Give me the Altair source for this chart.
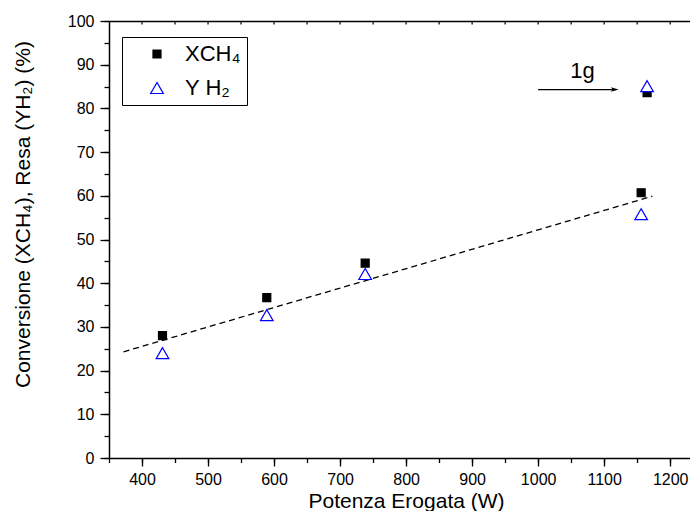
import altair as alt
import pandas as pd

# potenza erogata (W) e valori misurati (%)
power = [431, 589, 738, 1156, 1165]
xch4 = [28.0, 36.7, 44.6, 60.7, 83.6]
yh2 = [24.0, 32.7, 42.1, 55.8, 85.1]

# retta di tendenza (tratteggiata)
fit_x = [372, 1173]
fit_y = [24.3, 59.9]

# freccia "1g"
arrow_x = [1000, 1118]
arrow_y = [84.3, 84.3]
tip_x = [1122]
label_1g = "1g"
label_x = [1067]
label_y = [88.6]

series = ["XCH\u2084", "Y H\u2082"]
x_major = list(range(400, 1201, 100))
x_minor = list(range(350, 1201, 50))
y_major = list(range(0, 101, 10))
y_minor = list(range(0, 101, 5))
top_ticks = list(range(400, 1201, 50))

FONT = "Liberation Sans"
XDOM = [350, 1230]
YDOM = [0, 100]

rows = []
for i in range(len(power)):
    rows.append({"x": power[i], "v": xch4[i], "s": series[0]})
for i in range(len(power)):
    rows.append({"x": power[i], "v": yh2[i], "s": series[1]})
pts = pd.DataFrame(rows)

xs = alt.Scale(domain=XDOM, nice=False, zero=False)
ys = alt.Scale(domain=YDOM, nice=False)

# assi principali (etichette) e secondari (tacche minori)
x_axis = alt.Axis(
    orient="bottom", values=x_major, format="d", title="Potenza Erogata (W)",
    tickSize=8, labelPadding=5, labelOverlap=False, labelFlush=False, labelBound=False,
    titleX=297, titleY=49, titleBaseline="alphabetic", titleAnchor="middle",
    domain=True, grid=False,
)
x_axis_minor = alt.Axis(
    orient="bottom", values=x_minor, tickSize=4.5, labels=False, domain=False,
    title=None, grid=False,
)
y_axis = alt.Axis(
    orient="left", values=y_major, format="d",
    title="Conversione (XCH\u2084), Resa (YH\u2082) (%)",
    tickSize=9, labelPadding=6, labelOverlap=False, labelFlush=False, labelBound=False,
    titleX=-86, titleY=193, titleBaseline="middle", titleAngle=270,
    domain=True, grid=False,
)
y_axis_minor = alt.Axis(
    orient="left", values=y_minor, tickSize=5, labels=False, domain=False,
    title=None, grid=False,
)

points = alt.Chart(pts).mark_point(filled=False, strokeWidth=1.2, opacity=1).encode(
    x=alt.X("x:Q", scale=xs, axis=x_axis),
    y=alt.Y("v:Q", scale=ys, axis=y_axis),
    shape=alt.Shape("s:N", scale=alt.Scale(domain=series, range=["square", "triangle-up"]),
                    legend=alt.Legend(title=None)),
    stroke=alt.Stroke("s:N", scale=alt.Scale(domain=series, range=["black", "#0000ff"]),
                      legend=alt.Legend(title=None)),
    fill=alt.Fill("s:N", scale=alt.Scale(domain=series, range=["black", "white"]),
                  legend=alt.Legend(title=None)),
    size=alt.Size("s:N", scale=alt.Scale(domain=series, range=[64, 160]),
                  legend=alt.Legend(title=None)),
)

fit = alt.Chart(pd.DataFrame({"x": fit_x, "v": fit_y})).mark_line(
    color="black", strokeWidth=1.3, strokeDash=[6, 4]
).encode(
    x=alt.X("x:Q", scale=xs, axis=x_axis_minor),
    y=alt.Y("v:Q", scale=ys, axis=y_axis_minor),
)

arrow = alt.Chart(pd.DataFrame({"x": arrow_x, "v": arrow_y})).mark_line(
    color="black", strokeWidth=1.2
).encode(
    x=alt.X("x:Q", scale=xs, axis=None),
    y=alt.Y("v:Q", scale=ys, axis=None),
)

head = alt.Chart(pd.DataFrame({"x": tip_x, "v": [arrow_y[0]]})).mark_point(
    shape="M0,0L-1,-0.28L-0.75,0L-1,0.28Z", size=256, filled=True, color="black", opacity=1
).encode(
    x=alt.X("x:Q", scale=xs, axis=None),
    y=alt.Y("v:Q", scale=ys, axis=None),
)

txt = alt.Chart(pd.DataFrame({"x": label_x, "v": label_y, "t": [label_1g]})).mark_text(
    font=FONT, fontSize=22, color="black", baseline="middle", align="center"
).encode(
    x=alt.X("x:Q", scale=xs, axis=None),
    y=alt.Y("v:Q", scale=ys, axis=None),
    text="t:N",
)

top = alt.Chart(pd.DataFrame({"t": top_ticks})).mark_rule(color="black", strokeWidth=1.2).encode(
    x=alt.X("t:Q", scale=xs, axis=alt.Axis(orient="top", labels=False, ticks=False,
                                           domain=True, title=None, grid=False)),
    y=alt.value(0),
    y2=alt.value(3.5),
)

chart = alt.layer(fit, arrow, head, txt, points, top).resolve_axis(
    x="independent", y="independent"
).properties(
    width=581, height=437,
    autosize=alt.AutoSizeParams(type="none"),
    padding={"left": 101, "top": 13, "right": 0, "bottom": 53},
).configure_view(stroke=None).configure_axis(
    labelFont=FONT, labelFontSize=16, labelColor="black",
    titleFont=FONT, titleFontSize=21, titleColor="black", titleFontWeight="normal",
    domainColor="black", domainWidth=1.5, tickColor="black", tickWidth=1.3,
).configure_legend(
    orient="none", legendX=13, legendY=16,
    strokeColor="black", fillColor="white", padding=6, cornerRadius=0,
    labelFont=FONT, labelFontSize=22, labelColor="black",
    rowPadding=12, symbolOffset=18, labelOffset=17, symbolStrokeWidth=1.2,
)

chart.save("out.html", embed_options={"renderer": "svg", "actions": False})
